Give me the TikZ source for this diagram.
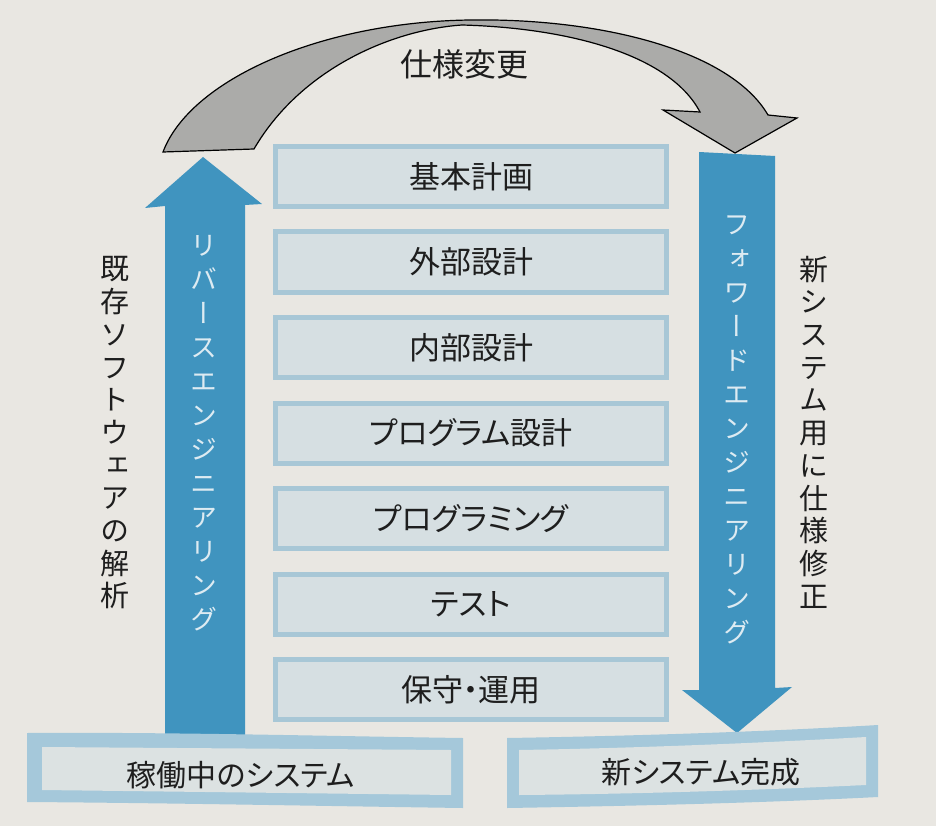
\documentclass[tikz,border=0pt]{standalone}
\usepackage{fontspec}
\setmainfont{Noto Sans CJK JP}[RawFeature=+palt]
% vertical-writing glyph forms for the stacked labels
\newfontfamily\vfont{Noto Sans CJK JP}[RawFeature=+vert]

\definecolor{paper}{HTML}{E9E7E2}
\definecolor{ink}{HTML}{1E1E1E}
\definecolor{boxfill}{HTML}{D6DFE2}
\definecolor{boxedge}{HTML}{A8C7D6}
\definecolor{frameblue}{HTML}{A5C8DA}
\definecolor{framefill}{HTML}{DCE2E2}
\definecolor{engblue}{HTML}{4094BF}
\definecolor{engtext}{HTML}{DDEBF2}
\definecolor{arrowgray}{HTML}{ABABA9}

\begin{document}
\begin{tikzpicture}[x=1pt,y=-1pt,
  stage/.style={draw=boxedge, line width=5pt, fill=boxfill,
    minimum width=391pt, minimum height=60pt, inner sep=0pt,
    text=ink, font=\fontsize{31}{31}\selectfont},
  vlabel/.style={align=center, inner sep=0pt, text=ink,
    font=\vfont\fontsize{29}{32.7}\selectfont},
  englabel/.style={align=center, inner sep=0pt, text=engtext,
    font=\vfont\fontsize{27}{34}\selectfont},
  toplabel/.style={inner sep=0pt, text=ink, font=\fontsize{32}{32}\selectfont},
  endlabel/.style={inner sep=0pt, text=ink, font=\fontsize{30}{30}\selectfont}]

\useasboundingbox (0,0) rectangle (936,826);
\fill[paper] (0,0) rectangle (936,826);

% development stages
\node[stage] (s1) at (471,176.5) {基本計画};
\node[stage] (s2) at (471,262)   {外部設計};
\node[stage] (s3) at (471,347.5) {内部設計};
\node[stage] (s4) at (471,433)   {プログラム設計};
\node[stage] (s5) at (471,518.5) {プログラミング};
\node[stage] (s6) at (471,604)   {テスト};
\node[stage] (s7) at (471,689.5) {保守・運用};

% reverse engineering (upward block arrow)
\fill[engblue] (165,742) -- (165,206) -- (145,208) -- (203,157)
  -- (262,204) -- (245,205) -- (245,742) -- cycle;
% forward engineering (downward block arrow)
\fill[engblue] (699,152) -- (775,156) -- (775,688) -- (792,687)
  -- (737,733) -- (682,690) -- (699,690) -- cycle;

\node[englabel] (rev) at (204,433)
  {リ\\バ\\ー\\ス\\エ\\ン\\ジ\\ニ\\ア\\リ\\ン\\グ};
\node[englabel] (fwd) at (737,430)
  {フ\\ォ\\ワ\\ー\\ド\\エ\\ン\\ジ\\ニ\\ア\\リ\\ン\\グ};

% side notes
\node[vlabel] (analyse) at (115,433)
  {既\\存\\ソ\\フ\\ト\\ウ\\ェ\\ア\\の\\解\\析};
\node[vlabel] (respec) at (814,432)
  {新\\シ\\ス\\テ\\ム\\用\\に\\仕\\様\\修\\正};

% specification change (curved ribbon arrow over the stages)
\filldraw[fill=arrowgray, draw=black, line width=1.2pt, line join=miter]
  (163,152) .. controls (190,80) and (320,22) .. (470,20)
  .. controls (600,18) and (730,50) .. (768,115)
  -- (797,118) -- (735,153) -- (663,110) -- (700,112)
  .. controls (670,55) and (570,28) .. (462,25)
  .. controls (390,30) and (300,70) .. (254,149) -- cycle;
\node[toplabel] (change) at (464,64) {仕様変更};

% existing and new systems
\fill[frameblue] (27,733) .. controls (170,732) and (320,736) .. (463,738)
  -- (463,808) .. controls (320,806) and (170,803) .. (27,802) -- cycle;
\fill[framefill] (42,747) -- (451,750) -- (451,795) -- (42,790) -- cycle;
\node[endlabel] (oldsys) at (241,775) {稼働中のシステム};

\fill[frameblue] (507,738) .. controls (630,736) and (760,732) .. (878,725)
  -- (878,797) .. controls (760,803) and (630,806) .. (507,808) -- cycle;
\fill[framefill] (519,750) .. controls (640,748) and (760,743) .. (866,737)
  -- (866,785) .. controls (760,790) and (640,794) .. (519,795) -- cycle;
\node[endlabel] (newsys) at (701,772) {新システム完成};

\end{tikzpicture}
\end{document}
